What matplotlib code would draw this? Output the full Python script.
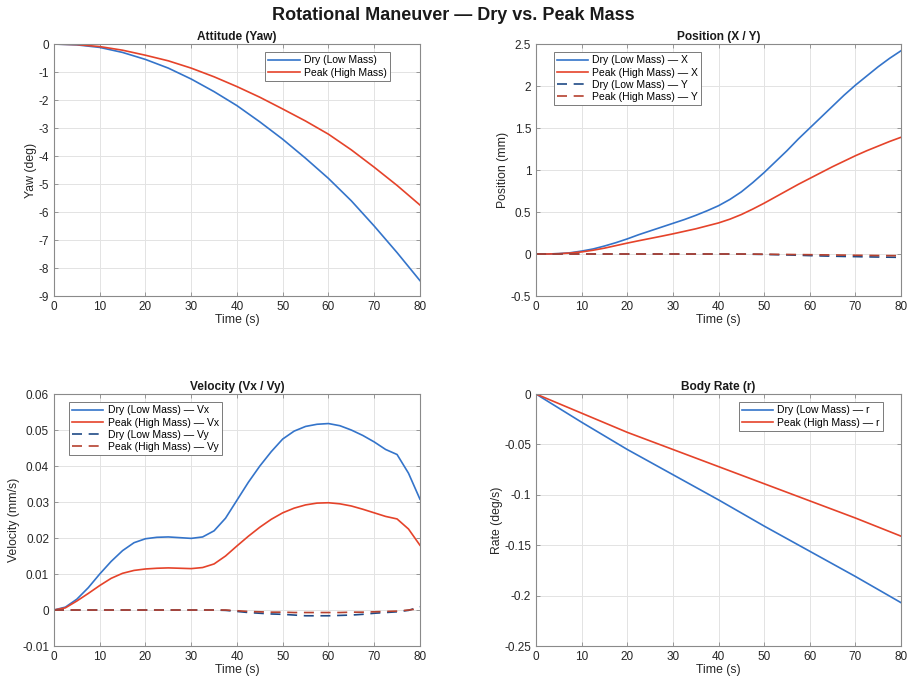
import matplotlib
matplotlib.use("Agg")
import matplotlib.pyplot as plt
import numpy as np

plt.rcParams['font.family'] = ['Liberation Sans', 'DejaVu Sans']
plt.rcParams['axes.unicode_minus'] = False

# ---------------- data ----------------
t5 = [0, 5, 10, 15, 20, 25, 30, 35, 40, 45, 50, 55, 60, 65, 70, 75, 80]

yaw_dry = [0, -0.03, -0.12, -0.30, -0.55, -0.86, -1.25, -1.70, -2.20, -2.78, -3.40, -4.08, -4.80, -5.60, -6.50, -7.45, -8.45]
yaw_peak = [0, -0.02, -0.09, -0.22, -0.40, -0.60, -0.86, -1.17, -1.52, -1.90, -2.32, -2.75, -3.22, -3.78, -4.40, -5.05, -5.75]

t25 = [0, 2.5, 5, 7.5, 10, 12.5, 15, 17.5, 20, 22.5, 25, 27.5, 30, 32.5, 35, 37.5, 40,
       42.5, 45, 47.5, 50, 52.5, 55, 57.5, 60, 62.5, 65, 67.5, 70, 72.5, 75, 77.5, 80]

posx_dry = [0, 0, 0.005, 0.015, 0.035, 0.06, 0.095, 0.135, 0.18, 0.23, 0.275, 0.32, 0.365, 0.41, 0.46, 0.515, 0.575,
            0.65, 0.74, 0.85, 0.97, 1.10, 1.23, 1.37, 1.50, 1.63, 1.76, 1.89, 2.01, 2.12, 2.23, 2.33, 2.42]
posx_peak = [0, 0, 0.004, 0.012, 0.025, 0.045, 0.07, 0.10, 0.13, 0.158, 0.185, 0.212, 0.24, 0.27, 0.30, 0.335, 0.37,
             0.415, 0.47, 0.535, 0.605, 0.68, 0.755, 0.83, 0.90, 0.97, 1.04, 1.105, 1.17, 1.23, 1.285, 1.34, 1.39]
posy_dry = [0, 0, 0, 0, 0, 0, 0, 0, 0, 0, 0, 0, 0, 0, 0, 0, 0,
            0, -0.001, -0.003, -0.005, -0.008, -0.011, -0.015, -0.019, -0.023, -0.026, -0.029, -0.031, -0.034, -0.036, -0.038, -0.040]
posy_peak = [0, 0, 0, 0, 0, 0, 0, 0, 0, 0, 0, 0, 0, 0, 0, 0, 0,
             0, 0, -0.001, -0.002, -0.004, -0.005, -0.007, -0.008, -0.010, -0.011, -0.013, -0.015, -0.016, -0.018, -0.019, -0.020]

vx_dry = [0, 0.0008, 0.0030, 0.0062, 0.0100, 0.0135, 0.0165, 0.0187, 0.0198, 0.0202, 0.0203, 0.0201, 0.0199, 0.0203, 0.0220, 0.0255, 0.0305,
          0.0355, 0.0400, 0.0440, 0.0475, 0.0497, 0.0510, 0.0516, 0.0518, 0.0512, 0.0500, 0.0485, 0.0467, 0.0446, 0.0432, 0.0380, 0.0308]
vx_peak = [0, 0.0006, 0.0025, 0.0046, 0.0068, 0.0088, 0.0102, 0.0110, 0.0114, 0.0116, 0.0117, 0.0116, 0.0115, 0.0118, 0.0128, 0.0150, 0.0178,
           0.0205, 0.0230, 0.0252, 0.0270, 0.0283, 0.0292, 0.0297, 0.0298, 0.0295, 0.0289, 0.0280, 0.0270, 0.0260, 0.0253, 0.0225, 0.0180]
vy_dry = [0, 0, 0, 0, 0, 0, 0, 0, 0, 0, 0, 0, 0, 0, 0, -0.0001, -0.0004,
          -0.0007, -0.0009, -0.0011, -0.0012, -0.0014, -0.0016, -0.0016, -0.0016, -0.0015, -0.0014, -0.0012, -0.0009, -0.0007, -0.0005, -0.0001, 0.0009]
vy_peak = [0, 0, 0, 0, 0, 0, 0, 0, 0, 0, 0, 0, 0, 0, 0, 0, -0.0002,
           -0.0004, -0.0005, -0.0006, -0.0006, -0.0007, -0.0007, -0.0007, -0.0007, -0.0007, -0.0006, -0.0006, -0.0005, -0.0004, -0.0003, 0.0000, 0.0004]

t10 = [0, 10, 20, 30, 40, 50, 60, 70, 80]
r_dry = [0, -0.028, -0.055, -0.080, -0.105, -0.131, -0.156, -0.181, -0.207]
r_peak = [0, -0.019, -0.038, -0.055, -0.072, -0.089, -0.106, -0.123, -0.141]

# ---------------- style ----------------
C_BLUE = '#3474CA'
C_RED = '#E5432A'
C_DBLUE = '#1F4A86'
C_DRED = '#B5412F'

fig = plt.figure(figsize=(9.07, 6.86), dpi=100)
fig.patch.set_facecolor('white')

L1, L2 = 0.0595, 0.591
W1, W2 = 0.4035, 0.4024
B_TOP, B_BOT = 0.5685, 0.0583
H = 0.3673

axs = [fig.add_axes([L1, B_TOP, W1, H]), fig.add_axes([L2, B_TOP, W2, H]),
       fig.add_axes([L1, B_BOT, W1, H]), fig.add_axes([L2, B_BOT, W2, H])]

TICK_FS = 8.5
LAB_FS = 8.8
TTL_FS = 8.6
LEG_FS = 7.5


def style(ax, ylim, yticks, title, ylabel):
    ax.set_xlim(0, 80)
    ax.set_xticks(np.arange(0, 81, 10))
    ax.set_ylim(*ylim)
    ax.set_yticks(yticks)
    ax.set_yticklabels(['%g' % v for v in yticks])
    ax.grid(True, color='#e3e3e3', linewidth=0.7)
    ax.set_axisbelow(True)
    for s in ax.spines.values():
        s.set_color('#8a8a8a')
        s.set_linewidth(0.8)
    ax.tick_params(direction='in', length=3, width=0.6, colors='#8a8a8a',
                   labelcolor='#262626', labelsize=TICK_FS, top=True, right=True, pad=3.5)
    ax.set_title(title, fontsize=TTL_FS, fontweight='bold', color='#1a1a1a', pad=3)
    ax.set_xlabel('Time (s)', fontsize=LAB_FS, color='#262626', labelpad=1)
    ax.set_ylabel(ylabel, fontsize=LAB_FS, color='#262626', labelpad=1.2)


def legend(ax, loc, bbox):
    lg = ax.legend(loc=loc, bbox_to_anchor=bbox, fontsize=LEG_FS, fancybox=False,
                   framealpha=1, edgecolor='#7a7a7a', handlelength=3.0,
                   borderpad=0.3, labelspacing=0.22, handletextpad=0.4, borderaxespad=0)
    lg.get_frame().set_linewidth(0.7)


# Attitude
ax = axs[0]
ax.plot(t5, yaw_dry, color=C_BLUE, lw=1.2, label='Dry (Low Mass)')
ax.plot(t5, yaw_peak, color=C_RED, lw=1.2, label='Peak (High Mass)')
style(ax, (-9, 0), list(range(-9, 1)), 'Attitude (Yaw)', 'Yaw (deg)')
legend(ax, 'upper left', (0.577, 0.968))

# Position
ax = axs[1]
ax.plot(t25, posx_dry, color=C_BLUE, lw=1.2, label='Dry (Low Mass) — X')
ax.plot(t25, posx_peak, color=C_RED, lw=1.2, label='Peak (High Mass) — X')
ax.plot(t25, posy_dry, color=C_DBLUE, lw=1.2, ls=(0, (6, 4)), label='Dry (Low Mass) — Y')
ax.plot(t25, posy_peak, color=C_DRED, lw=1.2, ls=(0, (6, 4)), label='Peak (High Mass) — Y')
style(ax, (-0.5, 2.5), [-0.5, 0, 0.5, 1, 1.5, 2, 2.5], 'Position (X / Y)', 'Position (mm)')
legend(ax, 'upper left', (0.049, 0.968))

# Velocity
ax = axs[2]
ax.plot(t25, vx_dry, color=C_BLUE, lw=1.2, label='Dry (Low Mass) — Vx')
ax.plot(t25, vx_peak, color=C_RED, lw=1.2, label='Peak (High Mass) — Vx')
ax.plot(t25, vy_dry, color=C_DBLUE, lw=1.2, ls=(0, (6, 4)), label='Dry (Low Mass) — Vy')
ax.plot(t25, vy_peak, color=C_DRED, lw=1.2, ls=(0, (6, 4)), label='Peak (High Mass) — Vy')
style(ax, (-0.01, 0.06), [-0.01, 0, 0.01, 0.02, 0.03, 0.04, 0.05, 0.06], 'Velocity (Vx / Vy)', 'Velocity (mm/s)')
legend(ax, 'upper left', (0.041, 0.968))

# Body rate
ax = axs[3]
ax.plot(t10, r_dry, color=C_BLUE, lw=1.2, label='Dry (Low Mass) — r')
ax.plot(t10, r_peak, color=C_RED, lw=1.2, label='Peak (High Mass) — r')
style(ax, (-0.25, 0), [-0.25, -0.2, -0.15, -0.1, -0.05, 0], 'Body Rate (r)', 'Rate (deg/s)')
legend(ax, 'upper left', (0.555, 0.968))

fig.suptitle('Rotational Maneuver — Dry vs. Peak Mass', fontsize=13, fontweight='bold',
             color='#1a1a1a', y=0.99)

fig.savefig('out.png', dpi=100, facecolor='white')
